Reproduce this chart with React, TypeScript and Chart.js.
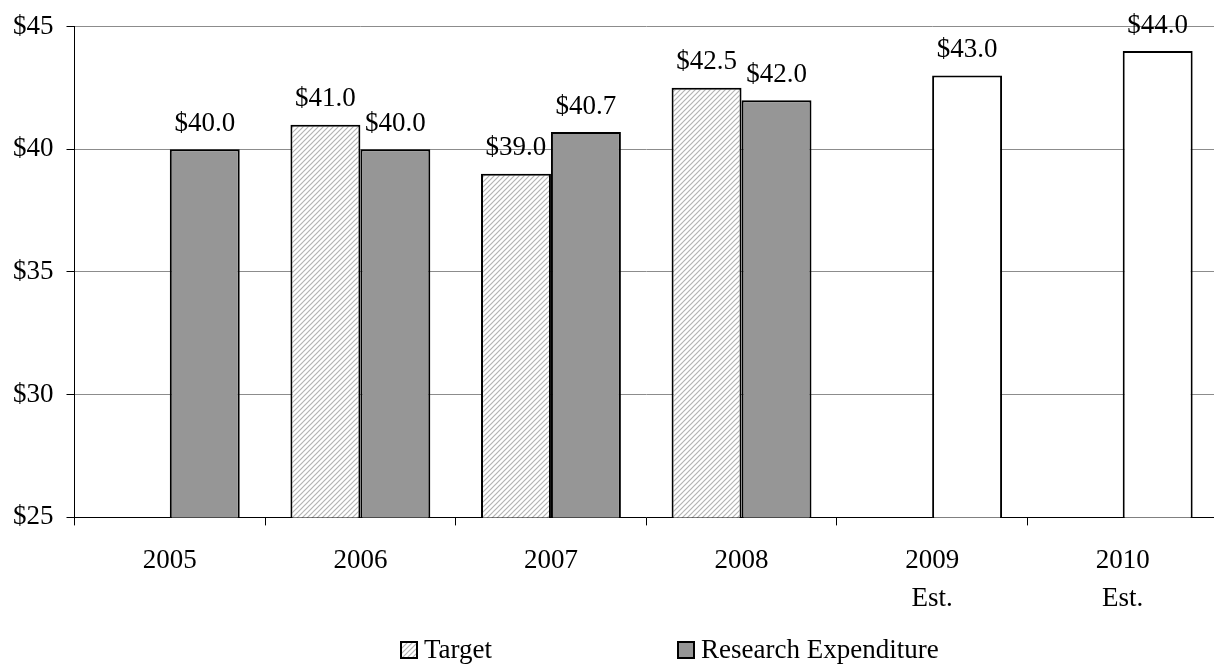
import React, { useEffect, useRef } from "react";
import { Chart, registerables } from "chart.js";

Chart.register(...registerables);

const categories: string[][] = [["2005"], ["2006"], ["2007"], ["2008"], ["2009", "Est."], ["2010", "Est."]];
const targetValues: (number | null)[] = [null, 41.0, 39.0, 42.5, null, null];
const expenditureValues: number[] = [40.0, 40.0, 40.7, 42.0, 43.0, 44.0];
const isEstimate: boolean[] = [false, false, false, false, true, true];
const yTicks = { min: 25, max: 45, step: 5 };

const FONT = "'Liberation Serif', 'Times New Roman', serif";
const GRAY = "#969696";

function makeHatch(): CanvasPattern | string {
  const c = document.createElement("canvas");
  c.width = 5;
  c.height = 5;
  const g = c.getContext("2d");
  if (!g) return "#ddd";
  g.fillStyle = "#ffffff";
  g.fillRect(0, 0, 5, 5);
  g.strokeStyle = "#b4b4b4";
  g.lineWidth = 1.2;
  g.beginPath();
  g.moveTo(-1, 6);
  g.lineTo(6, -1);
  g.moveTo(-1, 1);
  g.lineTo(1, -1);
  g.moveTo(4, 6);
  g.lineTo(6, 4);
  g.stroke();
  const p = g.createPattern(c, "repeat");
  return p || "#ddd";
}

const valueLabels = {
  id: "valueLabels",
  afterDatasetsDraw(chart: any) {
    const ctx = chart.ctx;
    ctx.save();
    ctx.font = `27px ${FONT}`;
    ctx.fillStyle = "#000";
    ctx.textAlign = "center";
    ctx.textBaseline = "bottom";
    chart.data.datasets.forEach((ds: any, di: number) => {
      const meta = chart.getDatasetMeta(di);
      meta.data.forEach((bar: any, i: number) => {
        const v = ds.data[i];
        if (v === null || v === undefined) return;
        ctx.fillText("$" + v.toFixed(1), bar.x, bar.y - 12);
      });
    });
    ctx.restore();
  },
};

const customLegend = {
  id: "customLegend",
  afterDraw(chart: any) {
    const ctx = chart.ctx;
    const items = [
      { text: "Target", fill: chart.data.datasets[0].backgroundColor },
      { text: "Research Expenditure", fill: GRAY },
    ];
    const startX = 401;
    const colW = 277;
    const y = 650;
    const box = 16;
    ctx.save();
    ctx.font = `27px ${FONT}`;
    ctx.textBaseline = "middle";
    ctx.textAlign = "left";
    items.forEach((it, i) => {
      const x = startX + i * colW;
      ctx.fillStyle = it.fill;
      ctx.fillRect(x, y - box / 2, box, box);
      ctx.strokeStyle = "#000";
      ctx.lineWidth = 2;
      ctx.strokeRect(x, y - box / 2, box, box);
      ctx.fillStyle = "#000";
      ctx.fillText(it.text, x + box + 7, y + 1);
    });
    ctx.restore();
  },
};

export default function App() {
  const ref = useRef<HTMLCanvasElement>(null);

  useEffect(() => {
    document.body.style.margin = "0";
    document.body.style.overflow = "hidden";
    const canvas = ref.current;
    if (!canvas) return;
    const hatch = makeHatch();
    const chart = new Chart(canvas, {
      type: "bar",
      data: {
        labels: categories,
        datasets: [
          {
            label: "Target",
            data: targetValues,
            backgroundColor: hatch as any,
            borderColor: "#000",
            borderWidth: 2,
          },
          {
            label: "Research Expenditure",
            data: expenditureValues,
            backgroundColor: isEstimate.map((e) => (e ? "#ffffff" : GRAY)),
            borderColor: "#000",
            borderWidth: 2,
          },
        ],
      },
      options: {
        responsive: false,
        animation: false,
        maintainAspectRatio: false,
        layout: { padding: { left: 0, right: 0, top: 0, bottom: 29 } },
        datasets: {
          bar: { categoryPercentage: 0.734, barPercentage: 1.0 },
        },
        plugins: {
          legend: { display: false },
          tooltip: { enabled: false },
        },
        scales: {
          x: {
            grid: {
              display: true,
              drawOnChartArea: false,
              drawTicks: true,
              tickLength: 8,
              color: "#000",
              offset: true,
            },
            border: { display: true, color: "#000", width: 1 },
            ticks: {
              color: "#000",
              font: { family: FONT, size: 27, lineHeight: 1.4 },
              padding: 17,
              maxRotation: 0,
              autoSkip: false,
            },
          },
          y: {
            min: yTicks.min,
            max: yTicks.max,
            grid: {
              color: "#8c8c8c",
              tickColor: "#000",
              tickLength: 8,
              lineWidth: 1,
            },
            border: { display: true, color: "#000", width: 1 },
            ticks: {
              stepSize: yTicks.step,
              color: "#000",
              font: { family: FONT, size: 27, lineHeight: 1.0 },
              padding: 13,
              callback: (v: any) => "$" + v,
            },
          },
        },
      },
      plugins: [valueLabels, customLegend],
    });
    return () => chart.destroy();
  }, []);

  return (
    <div style={{ position: "absolute", left: 0, top: 0, width: 1218, height: 664 }}>
      <canvas ref={ref} width={1218} height={664} style={{ display: "block" }} />
    </div>
  );
}
